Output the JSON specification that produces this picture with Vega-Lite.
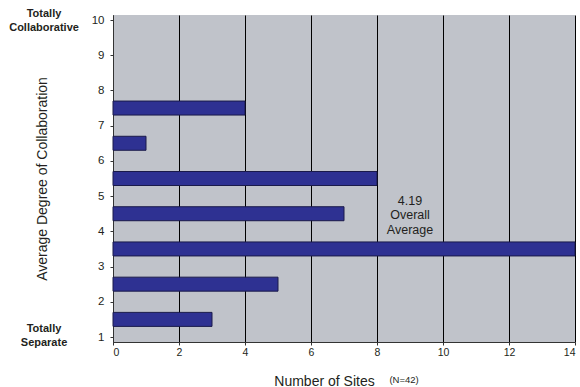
{
  "$schema": "https://vega.github.io/schema/vega-lite/v6.json",
  "width": 462,
  "height": 327,
  "autosize": {"type": "none"},
  "padding": {"left": 113, "top": 15, "right": 5, "bottom": 45},
  "background": "white",
  "config": {
    "view": {"fill": "#C0C3CA", "stroke": null},
    "font": "Liberation Sans",
    "axis": {
      "domainColor": "#333333",
      "tickColor": "#333333",
      "labelColor": "#231F20",
      "titleColor": "#231F20",
      "labelFont": "Liberation Sans",
      "titleFont": "Liberation Sans",
      "titleFontWeight": "normal",
      "labelOverlap": false
    }
  },
  "datasets": {
    "bars": [
      {"degree": 1.5, "sites": 3},
      {"degree": 2.5, "sites": 5},
      {"degree": 3.5, "sites": 14},
      {"degree": 4.5, "sites": 7},
      {"degree": 5.5, "sites": 8},
      {"degree": 6.5, "sites": 1},
      {"degree": 7.5, "sites": 4}
    ],
    "notes": [
      {"sites": 9, "degree": 4.87, "label": "4.19\nOverall\nAverage"}
    ],
    "ends": [
      {"sites": -2.09, "degree": 10.165, "label": "Totally\nCollaborative"},
      {"sites": -2.09, "degree": 1.24, "label": "Totally\nSeparate"}
    ],
    "nnote": [
      {"sites": 8.82, "degree": -0.32, "label": "(N=42)"}
    ]
  },
  "encoding": {
    "y": {
      "field": "degree", "type": "quantitative",
      "scale": {"domain": [1, 10], "nice": false, "zero": false},
      "axis": {
        "values": [1, 2, 3, 4, 5, 6, 7, 8, 9, 10],
        "labelOverlap": false,
        "grid": false,
        "title": "Average Degree of Collaboration",
        "titleFontSize": 14,
        "titleX": -71,
        "titleY": 163.5,
        "titleAngle": -90,
        "titleBaseline": "middle",
        "titleAlign": "center",
        "labelFontSize": 11.5,
        "labelPadding": 6,
        "tickSize": 3
      }
    },
    "x": {
      "field": "sites", "type": "quantitative",
      "scale": {"domain": [0, 14], "nice": false},
      "axis": {
        "values": [0, 2, 4, 6, 8, 10, 12, 14],
        "labelOverlap": false,
        "grid": true,
        "gridColor": "#000000",
        "gridOpacity": 1,
        "gridWidth": 1,
        "title": "Number of Sites",
        "titleFontSize": 14,
        "titleX": 211,
        "titleY": 43,
        "titleBaseline": "alphabetic",
        "titleAlign": "center",
        "labelFontSize": 10.5,
        "labelPadding": 2,
        "tickSize": 3
      }
    }
  },
  "layer": [
    {
      "data": {"name": "bars"},
      "mark": {"type": "bar", "orient": "horizontal", "size": 14, "fill": "#2E3192", "stroke": "#1A1A4A", "strokeWidth": 1}
    },
    {
      "data": {"name": "notes"},
      "mark": {"type": "text", "fontSize": 12.5, "lineBreak": "\n", "lineHeight": 14.5, "align": "center", "baseline": "middle", "color": "#231F20"},
      "encoding": {"text": {"field": "label"}}
    },
    {
      "data": {"name": "ends"},
      "mark": {"type": "text", "fontSize": 11, "fontWeight": "bold", "lineBreak": "\n", "lineHeight": 14, "align": "center", "baseline": "middle", "color": "#231F20"},
      "encoding": {"text": {"field": "label"}}
    },
    {
      "data": {"name": "nnote"},
      "mark": {"type": "text", "fontSize": 9.5, "align": "center", "baseline": "alphabetic", "color": "#231F20"},
      "encoding": {"text": {"field": "label"}}
    }
  ]
}
